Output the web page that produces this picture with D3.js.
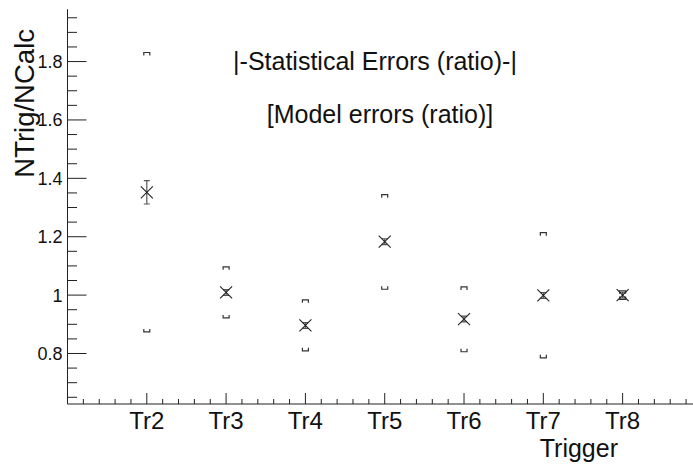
<!DOCTYPE html>
<html>
<head>
<meta charset="utf-8">
<script src="https://cdn.jsdelivr.net/npm/d3@7"></script>
<style>
  html, body { margin: 0; padding: 0; background: #fff; }
  svg { display: block; font-family: "Liberation Sans", Arial, Helvetica, sans-serif; }
</style>
</head>
<body>
<svg id="chart" width="693" height="465"></svg>
<script>
// ---- data ----
const categories = ["Tr2", "Tr3", "Tr4", "Tr5", "Tr6", "Tr7", "Tr8"];
const positions  = [1, 2, 3, 4, 5, 6, 7];
const ratios     = [1.352, 1.009, 0.896, 1.183, 0.918, 0.999, 1.000];
const statErrors = [0.040, 0.010, 0.010, 0.010, 0.010, 0.010, 0.010];
const modelHigh  = [1.831, 1.097, 0.984, 1.344, 1.028, 1.214, 1.015];
const modelLow   = [0.874, 0.922, 0.809, 1.020, 0.806, 0.785, 0.985];
const yTickValues = [0.8, 1.0, 1.2, 1.4, 1.6, 1.8];
const xDomain = [0, 7.9];
const yDomain = [0.627, 1.979];
const legendLines = ["|-Statistical Errors (ratio)-|", "[Model errors (ratio)]"];
const xTitle = "Trigger";
const yTitle = "NTrig/NCalc";

(function () {
const svg = d3.select("#chart");
const mL = 67.5, mR = 694, mT = 9.3, mB = 404;

const x = d3.scaleLinear().domain(xDomain).range([mL, mR]);
const y = d3.scaleLinear().domain(yDomain).range([mB, mT]);

const ink = "#222";

// ---- X axis ----
const xMinor = d3.range(0, 7.9, 0.2).map(v => +v.toFixed(2));
const gx = svg.append("g").attr("transform", `translate(0,${mB})`);
gx.append("line").attr("x1", mL).attr("x2", mR).attr("y1", 0).attr("y2", 0)
  .attr("stroke", ink).attr("stroke-width", 1);
gx.selectAll("line.minor").data(xMinor.filter(v => Math.abs(v - Math.round(v)) > 1e-6))
  .join("line").attr("class", "minor")
  .attr("x1", d => x(d)).attr("x2", d => x(d)).attr("y1", 0).attr("y2", -5)
  .attr("stroke", ink);
gx.selectAll("line.major").data(positions).join("line").attr("class", "major")
  .attr("x1", d => x(d)).attr("x2", d => x(d)).attr("y1", 0).attr("y2", -11)
  .attr("stroke", ink);
gx.selectAll("text").data(categories).join("text")
  .attr("x", (d, i) => x(positions[i]))
  .attr("y", 25)
  .attr("text-anchor", "middle")
  .attr("font-size", 24)
  .attr("fill", "#111")
  .text(d => d);

svg.append("text")
  .attr("x", 618).attr("y", 457)
  .attr("text-anchor", "end")
  .attr("font-size", 25)
  .attr("fill", "#111")
  .text(xTitle);

// ---- Y axis ----
const yMinor = d3.range(0.65, 1.96, 0.05).map(v => +v.toFixed(2));
const gy = svg.append("g").attr("transform", `translate(${mL},0)`);
gy.append("line").attr("x1", 0).attr("x2", 0).attr("y1", mT).attr("y2", mB)
  .attr("stroke", ink);
gy.selectAll("line.minor").data(yMinor.filter(v => !yTickValues.some(t => Math.abs(t - v) < 1e-6)))
  .join("line").attr("class", "minor")
  .attr("x1", 0).attr("x2", 9.5).attr("y1", d => y(d)).attr("y2", d => y(d))
  .attr("stroke", ink);
gy.selectAll("line.major").data(yTickValues).join("line").attr("class", "major")
  .attr("x1", 0).attr("x2", 19).attr("y1", d => y(d)).attr("y2", d => y(d))
  .attr("stroke", ink);
gy.selectAll("text").data(yTickValues).join("text")
  .attr("x", -5)
  .attr("y", d => y(d))
  .attr("dy", "0.36em")
  .attr("text-anchor", "end")
  .attr("font-size", 18)
  .attr("fill", "#111")
  .text(d => d3.format("~g")(d));

svg.append("text")
  .attr("transform", `translate(33.5,29) rotate(-90)`)
  .attr("text-anchor", "end")
  .attr("font-size", 27.5)
  .attr("fill", "#111")
  .text(yTitle);

// ---- legend text ----
svg.append("text").attr("x", 375).attr("y", 69.5).attr("text-anchor", "middle")
  .attr("font-size", 25).attr("fill", "#111").text(legendLines[0]);
svg.append("text").attr("x", 380).attr("y", 123).attr("text-anchor", "middle")
  .attr("font-size", 25).attr("fill", "#111").text(legendLines[1]);

// ---- data marks ----
const pts = categories.map((c, i) => ({
  c, px: x(positions[i]), v: ratios[i], e: statErrors[i], hi: modelHigh[i], lo: modelLow[i]
}));
const g = svg.append("g");

// model error brackets
g.selectAll("path.hi").data(pts).join("path").attr("class", "hi")
  .attr("d", d => { const yy = y(d.hi); return `M${d.px - 3},${yy + 3}V${yy}H${d.px + 3}V${yy + 3}`; })
  .attr("fill", "none").attr("stroke", "#333").attr("stroke-width", 1.2);
g.selectAll("path.lo").data(pts).join("path").attr("class", "lo")
  .attr("d", d => { const yy = y(d.lo); return `M${d.px - 3},${yy - 3}V${yy}H${d.px + 3}V${yy - 3}`; })
  .attr("fill", "none").attr("stroke", "#333").attr("stroke-width", 1.2);

// statistical error bars
g.selectAll("path.stat").data(pts).join("path").attr("class", "stat")
  .attr("d", d => {
    const y1 = y(d.v + d.e), y2 = y(d.v - d.e);
    return `M${d.px},${y1}V${y2}M${d.px - 3},${y1}H${d.px + 3}M${d.px - 3},${y2}H${d.px + 3}`;
  })
  .attr("fill", "none").attr("stroke", "#555").attr("stroke-width", 1.2);

// X markers
g.selectAll("path.mark").data(pts).join("path").attr("class", "mark")
  .attr("d", d => {
    const yy = y(d.v), s = 6;
    return `M${d.px - s},${yy - s}L${d.px + s},${yy + s}M${d.px - s},${yy + s}L${d.px + s},${yy - s}`;
  })
  .attr("fill", "none").attr("stroke", "#222").attr("stroke-width", 1.1);
})();
</script>
</body>
</html>
